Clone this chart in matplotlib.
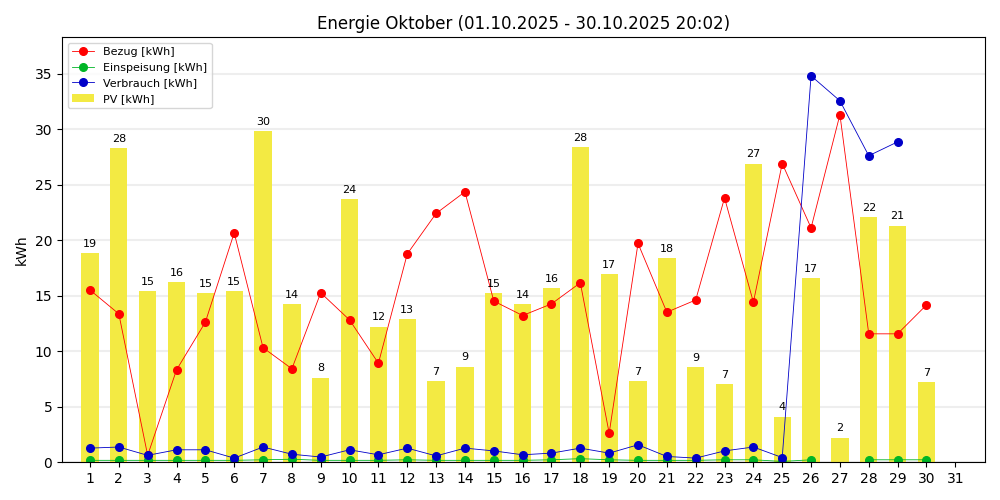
import matplotlib
matplotlib.use("Agg")
import matplotlib.pyplot as plt
import numpy as np

nan = np.nan
tage = list(range(1, 32))

pv = [18.8, 28.3, 15.4, 16.2, 15.2, 15.4, 29.8, 14.2, 7.6, 23.7,
      12.2, 12.9, 7.3, 8.6, 15.2, 14.2, 15.7, 28.4, 16.9, 7.3,
      18.4, 8.55, 7.0, 26.9, 4.1, 16.6, 2.2, 22.1, 21.3, 7.2, nan]

bezug = [15.5, 13.35, 0.6, 8.3, 12.6, 20.65, 10.3, 8.4, 15.25, 12.8,
         8.9, 18.75, 22.4, 24.35, 14.5, 13.2, 14.25, 16.15, 2.6, 19.7,
         13.5, 14.6, 23.8, 14.4, 26.9, 21.1, 31.3, 11.55, 11.55, 14.15, nan]

einspeisung = [0.15, 0.15, 0.15, 0.15, 0.15, 0.15, 0.2, 0.25, 0.15, 0.15,
               0.15, 0.2, 0.15, 0.15, 0.15, 0.15, 0.2, 0.3, 0.2, 0.15,
               0.15, 0.15, 0.2, 0.2, 0.05, 0.2, nan, 0.2, 0.2, 0.2, nan]

verbrauch = [1.25, 1.35, 0.6, 1.1, 1.1, 0.35, 1.35, 0.7, 0.45, 1.1,
             0.65, 1.25, 0.55, 1.25, 1.0, 0.65, 0.8, 1.25, 0.8, 1.55,
             0.5, 0.35, 1.0, 1.35, 0.4, 34.8, 32.55, 27.6, 28.85, nan, nan]

fig, ax = plt.subplots(figsize=(10, 5), dpi=100)

ax.grid(axis='y', color='#eeeeee', linewidth=1.5)
ax.set_axisbelow(True)

ax.plot(tage, bezug, '-o', color='#ff0000', linewidth=0.6, markersize=5.5,
        label='Bezug [kWh]')
ax.plot(tage, einspeisung, '-o', color='#00b526', linewidth=0.6,
        markersize=5.5, label='Einspeisung [kWh]')
ax.plot(tage, verbrauch, '-o', color='#0000c8', linewidth=0.6,
        markersize=5.5, label='Verbrauch [kWh]')

bars = ax.bar(tage, pv, width=0.6, color='#f3ea43', label='PV [kWh]', zorder=1)
labels = ['' if np.isnan(v) else '%.0f' % v for v in pv]
ax.bar_label(bars, labels=labels, padding=3, fontsize=8)

ax.set_xlim(0.03, 32.03)
ax.set_ylim(0, 38.3)
ax.set_xticks(tage)
ax.set_ylabel('kWh')
ax.set_title('Energie Oktober (01.10.2025 - 30.10.2025 20:02)')
ax.legend(loc='upper left', fontsize=8)

plt.subplots_adjust(left=0.062, right=0.985, bottom=0.076, top=0.926)
plt.savefig('out.png')
